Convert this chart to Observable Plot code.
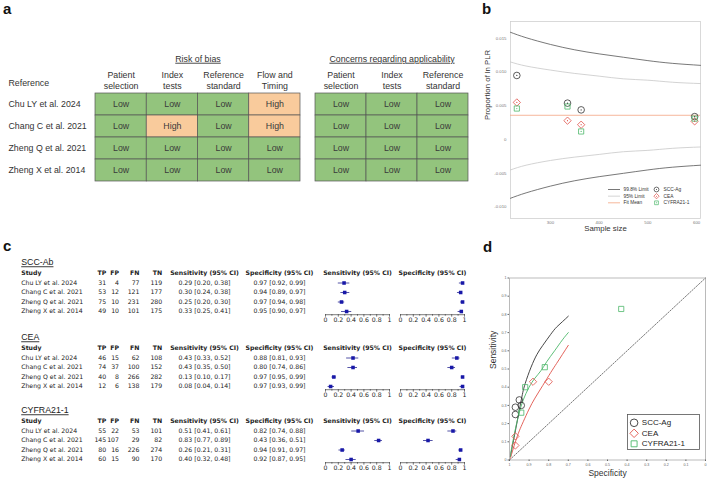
<!DOCTYPE html>
<html><head><meta charset="utf-8">
<script src="https://cdn.jsdelivr.net/npm/d3@7"></script>
<script src="https://cdn.jsdelivr.net/npm/@observablehq/plot@0.6"></script>
<style>
html,body{margin:0;padding:0;background:#fff;}
#root{position:relative;width:709px;height:482px;overflow:hidden;background:#fff;}
.panel-label{position:absolute;font:bold 15px "Liberation Sans",Arial,sans-serif;line-height:1;color:#111;}
</style></head><body><div id="root"></div>
<script>
// ---------------- DATA ----------------
const studies = ["Chu LY et al. 2024","Chang C et al. 2021","Zheng Q et al. 2021","Zheng X et al. 2014"];
const referenceHeader = "Reference";
const robDomains = ["Patient\nselection","Index\ntests","Reference\nstandard","Flow and\nTiming"];
const robRatings = [["Low","Low","Low","High"],["Low","High","Low","High"],["Low","Low","Low","Low"],["Low","Low","Low","Low"]];
const concernDomains = ["Patient\nselection","Index\ntests","Reference\nstandard"];
const concernRatings = [["Low","Low","Low"],["Low","Low","Low"],["Low","Low","Low"],["Low","Low","Low"]];
const ratingLevels = ["Low","High"];

// panel b
const markers = ["SCC-Ag","CEA","CYFRA21-1"];
const sampleSize = [231, 363, 596, 335];          // per study (same order as studies)
const propSCC = [0.0095, 0.0044, 0.0034, 0.0054];
const propCEA = [0.0055, 0.0022, 0.0027, 0.0028];
const propCYFRA = [0.0046, 0.0012, 0.0031, 0.0049];
const fitMean = [0.0036];
const limitN = [218, 250, 300, 350, 400, 450, 500, 550, 608];
const upper998 = [0.0159, 0.0151, 0.0141, 0.0133, 0.0127, 0.0122, 0.0117, 0.0113, 0.0110];
const lower998 = [-0.0087, -0.0079, -0.0069, -0.0061, -0.0055, -0.0050, -0.0045, -0.0041, -0.0038];
const upper95 = [0.0115, 0.0109, 0.0103, 0.0098, 0.0094, 0.0090, 0.0088, 0.0085, 0.0083];
const lower95 = [-0.0045, -0.0038, -0.0031, -0.0026, -0.0022, -0.0018, -0.0016, -0.0013, -0.0011];
const limitLabels = ["99.8% Limit","95% Limit","Fit Mean"];
const sampleTicks = [300, 400, 500, 600];
const plrTicks = [-0.010, -0.005, 0, 0.005, 0.010, 0.015];
const plrTickLabels = ["-0.010","-0.005","0","0.005","0.010","0.015"];

// panel c
const sectionNames = ["SCC-Ab","CEA","CYFRA21-1"];
const colHeaders = ["Study","TP","FP","FN","TN","Sensitivity (95% CI)","Specificity (95% CI)"];
const sccCounts = [[31,4,77,119],[53,12,121,177],[75,10,231,280],[49,10,101,175]];
const sccSens = [[0.29,0.20,0.38],[0.30,0.24,0.38],[0.25,0.20,0.30],[0.33,0.25,0.41]];
const sccSpec = [[0.97,0.92,0.99],[0.94,0.89,0.97],[0.97,0.94,0.98],[0.95,0.90,0.97]];
const ceaCounts = [[46,15,62,108],[74,37,100,152],[40,8,266,282],[12,6,138,179]];
const ceaSens = [[0.43,0.33,0.52],[0.43,0.35,0.50],[0.13,0.10,0.17],[0.08,0.04,0.14]];
const ceaSpec = [[0.88,0.81,0.93],[0.80,0.74,0.86],[0.97,0.95,0.99],[0.97,0.93,0.99]];
const cyfraCounts = [[55,22,53,101],[145,107,29,82],[80,16,226,274],[60,15,90,170]];
const cyfraSens = [[0.51,0.41,0.61],[0.83,0.77,0.89],[0.26,0.21,0.31],[0.40,0.32,0.48]];
const cyfraSpec = [[0.82,0.74,0.88],[0.43,0.36,0.51],[0.94,0.91,0.97],[0.92,0.87,0.95]];
const forestMajorTicks = [0, 0.2, 0.4, 0.6, 0.8, 1];
const forestTickLabels = ["0","0.2","0.4","0.6","0.8","1"];
const forestMinorTicks = [0.1, 0.3, 0.5, 0.7, 0.9];

// panel d
const srocSCC = [[0.995,0.02],[0.99,0.05],[0.97,0.16],[0.94,0.33],[0.92,0.42],[0.89,0.51],[0.86,0.58],[0.83,0.63],[0.79,0.69],[0.76,0.73],[0.73,0.76],[0.70,0.79]];
const srocCYFRA = [[0.995,0.02],[0.99,0.06],[0.97,0.17],[0.95,0.26],[0.93,0.33],[0.90,0.40],[0.87,0.45],[0.84,0.49],[0.81,0.54],[0.77,0.60],[0.73,0.66],[0.70,0.70]];
const srocCEA = [[0.995,0.01],[0.99,0.03],[0.97,0.10],[0.95,0.16],[0.93,0.21],[0.90,0.28],[0.87,0.34],[0.83,0.41],[0.79,0.48],[0.76,0.53],[0.73,0.58],[0.70,0.63]];
const chanceLine = [[1,0],[0,1]];
const srocTicks = [0,0.1,0.2,0.3,0.4,0.5,0.6,0.7,0.8,0.9,1];
const srocTickLabels = ["0","0.1","0.2","0.3","0.4","0.5","0.6","0.7","0.8","0.9","1"];

// ---------------- STYLE / HELPERS ----------------
const markerColors = ["#333333","#e0524a","#4cb86a"];
const markerSymbols = ["circle","diamond2","square2"];
const fontA = '"Liberation Sans", Arial, sans-serif';
const fontC = '"DejaVu Sans", Verdana, sans-serif';
const root = document.getElementById("root");
const baseStyle = {background:"transparent", overflow:"visible", color:"#333"};
function place(el, left, top){ el.style.position="absolute"; el.style.left=left+"px"; el.style.top=top+"px"; el.style.maxWidth="none"; root.appendChild(el); }
function underline(svg, labels){ d3.select(svg).selectAll("text").filter(function(){return labels.includes(this.textContent);}).attr("text-decoration","underline"); }
function panelLabel(t, left, top){ const d=document.createElement("div"); d.className="panel-label"; d.textContent=t; d.style.left=left+"px"; d.style.top=top+"px"; root.appendChild(d); }

// ---------------- PANEL a ----------------
function qualityTable(domains, ratings, title, left, width, mL, mR, withLabels){
  const cells = studies.flatMap((s,i)=>domains.map((d,j)=>({study:s, domain:d, rating:ratings[i][j]})));
  const marks = [
    Plot.cell(cells, {x:"domain", y:"study", fill:"rating", stroke:"#555", strokeWidth:0.7}),
    Plot.text(cells, {x:"domain", y:"study", text:"rating", fill:"#3a3a3a"}),
    Plot.axisX({anchor:"top", tickSize:0, tickPadding:5, label:null, lineHeight:1.2, color:"#333"}),
    Plot.text([title], {frameAnchor:"top", dy:-38})
  ];
  if (withLabels) marks.push(
    Plot.text(studies, {y:d=>d, frameAnchor:"left", dx:-87, textAnchor:"start"}),
    Plot.text([referenceHeader], {frameAnchor:"top-left", dx:-87, dy:-14, textAnchor:"start"})
  );
  const svg = Plot.plot({
    width, height:190, marginLeft:mL, marginRight:mR, marginTop:93, marginBottom:9,
    style:{...baseStyle, fontFamily:fontA, fontSize:"8.8px"},
    x:{type:"band", domain:domains, padding:0, round:false},
    y:{type:"band", domain:studies, padding:0, round:false, axis:null},
    color:{domain:ratingLevels, range:["#93c47d","#f9cb9c"]},
    marks
  });
  underline(svg, [title]);
  place(svg, left, 0);
}
qualityTable(robDomains, robRatings, "Risk of bias", 0, 302, 95, 2, true);
qualityTable(concernDomains, concernRatings, "Concerns regarding applicability", 312, 158, 3, 2, false);

// ---------------- PANEL b ----------------
(function(){
  const limits = limitN.map((n,i)=>({n, u998:upper998[i], l998:lower998[i], u95:upper95[i], l95:lower95[i]}));
  const props = [propSCC, propCEA, propCYFRA];
  const pts = markers.flatMap((m,k)=>studies.map((s,i)=>({marker:m, n:sampleSize[i], p:props[k][i]})));
  const svg = Plot.plot({
    width:269, height:245, marginLeft:70, marginRight:9, marginTop:21, marginBottom:27,
    style:{...baseStyle, fontFamily:fontA, fontSize:"7.8px"},
    x:{domain:[218,608]}, y:{domain:[-0.0117,0.0175]},
    color:{domain:markers, range:markerColors},
    symbol:{domain:markers, range:markerSymbols},
    marks:[
      Plot.frame({stroke:"#d0d0d0", strokeWidth:0.8}),
      Plot.axisY({ticks:plrTicks, tickFormat:(d,i)=>plrTickLabels[plrTicks.indexOf(d)], tickSize:0, tickPadding:4, fontSize:4.3, color:"#777", label:null}),
      Plot.axisX({ticks:sampleTicks, tickSize:0, tickPadding:2, fontSize:4.3, color:"#777", label:null}),
      Plot.line(limits, {x:"n", y:"u998", curve:"natural", stroke:"#555", strokeWidth:0.8}),
      Plot.line(limits, {x:"n", y:"l998", curve:"natural", stroke:"#555", strokeWidth:0.8}),
      Plot.line(limits, {x:"n", y:"u95", curve:"natural", stroke:"#c8c8c8", strokeWidth:0.8}),
      Plot.line(limits, {x:"n", y:"l95", curve:"natural", stroke:"#c8c8c8", strokeWidth:0.8}),
      Plot.ruleY(fitMean, {stroke:"#f4a582", strokeWidth:0.8}),
      Plot.dot(pts, {x:"n", y:"p", symbol:"marker", stroke:"marker", fill:"none", r:3.3, strokeWidth:0.8}),
      Plot.dot(pts, {x:"n", y:"p", fill:"marker", r:0.6}),
      Plot.text(["Proportion of ln PLR"], {frameAnchor:"left", rotate:-90, dx:-23}),
      Plot.text(["Sample size"], {frameAnchor:"bottom", dy:12.7})
    ]
  });
  place(svg, 440, 0);

  const limitColors = ["#555","#c8c8c8","#f4a582"];
  const leg = Plot.plot({
    width:100, height:24, marginLeft:0, marginRight:88, marginTop:0, marginBottom:0,
    style:{...baseStyle, fontFamily:fontA, fontSize:"4.8px"},
    y:{type:"point", domain:[0,1,2], range:[6,19.3], padding:0, round:false, axis:null},
    color:{domain:markers, range:markerColors},
    symbol:{domain:markers, range:markerSymbols},
    marks:[
      ...limitLabels.map((l,i)=>Plot.ruleY([i], {stroke:limitColors[i], strokeWidth:0.8})),
      Plot.text(limitLabels, {y:(d,i)=>i, frameAnchor:"right", dx:3, textAnchor:"start"}),
      Plot.dot(markers, {y:(d,i)=>i, frameAnchor:"right", dx:36, symbol:d=>d, stroke:d=>d, fill:"none", r:2.4, strokeWidth:0.7}),
      Plot.dot(markers, {y:(d,i)=>i, frameAnchor:"right", dx:36, fill:d=>d, r:0.5}),
      Plot.text(markers, {y:(d,i)=>i, frameAnchor:"right", dx:43, textAnchor:"start"})
    ]
  });
  place(leg, 608, 183);
})();

// ---------------- PANEL c ----------------
const rowDomain = ["Study", ...studies];
const colDx = [20.7, 105.7, 118.5, 139, 161.7, 204, 279];
const colAnchor = ["start","end","end","end","end","middle","middle"];
const rowStep = 9.5;
function fmtCI(v){ return `${v[0].toFixed(2)} [${v[1].toFixed(2)}, ${v[2].toFixed(2)}]`; }
function section(name, counts, sens, spec, headerY){
  const top = headerY - 20;
  const rows = studies.map((s,i)=>({study:s, tp:counts[i][0], fp:counts[i][1], fn:counts[i][2], tn:counts[i][3], sens:fmtCI(sens[i]), spec:fmtCI(spec[i])}));
  const keys = ["study","tp","fp","fn","tn","sens","spec"];
  const svg = Plot.plot({
    width:315, height:66, margin:0,
    style:{...baseStyle, fontFamily:fontC, fontSize:"6.2px", color:"#222"},
    y:{type:"point", domain:rowDomain, range:[20, 20+4*rowStep], padding:0, round:false, axis:null},
    marks:[
      Plot.text([name], {y:()=>"Study", dy:-11, frameAnchor:"left", dx:20.7, textAnchor:"start", fontFamily:fontA, fontSize:8.8}),
      ...colHeaders.map((h,j)=>Plot.text([h], {y:()=>"Study", frameAnchor:"left", dx:colDx[j], textAnchor:colAnchor[j], fontWeight:"bold"})),
      ...keys.map((k,j)=>Plot.text(rows, {y:"study", text:k, frameAnchor:"left", dx:colDx[j], textAnchor:colAnchor[j]}))
    ]
  });
  underline(svg, [name]);
  place(svg, 0, top);
  forest("Sensitivity (95% CI)", sens, 315, headerY);
  forest("Specificity (95% CI)", spec, 390, headerY);
}
function forest(label, vals, left, headerY){
  const data = studies.map((s,i)=>({study:s, est:vals[i][0], lo:vals[i][1], hi:vals[i][2]}));
  const svg = Plot.plot({
    width:84, height:60, marginLeft:10, marginRight:10, marginTop:0, marginBottom:12.8,
    style:{...baseStyle, fontFamily:fontC, fontSize:"6.2px", color:"#222"},
    x:{domain:[0,1]},
    y:{type:"point", domain:rowDomain, range:[6, 6+4*rowStep], padding:0, round:false, axis:null},
    marks:[
      Plot.frame({anchor:"bottom", stroke:"#222", strokeWidth:0.6}),
      Plot.axisX({ticks:forestMajorTicks, tickFormat:d=>forestTickLabels[forestMajorTicks.indexOf(d)], tickSize:2.5, tickPadding:0.8, strokeWidth:0.6, label:null}),
      Plot.axisX({ticks:forestMinorTicks, tickFormat:()=>"", tickSize:1.5, strokeWidth:0.6, label:null}),
      Plot.ruleY(data, {y:"study", x1:"lo", x2:"hi", stroke:"#2a2a90", strokeWidth:0.8}),
      Plot.dot(data, {x:"est", y:"study", symbol:"square", fill:"#1818a8", r:2}),
      Plot.text([label], {y:()=>"Study", fontWeight:"bold"})
    ]
  });
  place(svg, left, headerY - 6);
}
section(sectionNames[0], sccCounts, sccSens, sccSpec, 273.3);
section(sectionNames[1], ceaCounts, ceaSens, ceaSpec, 347.7);
section(sectionNames[2], cyfraCounts, cyfraSens, cyfraSpec, 421);

// ---------------- PANEL d ----------------
(function(){
  const sensAll = [sccSens, ceaSens, cyfraSens], specAll = [sccSpec, ceaSpec, cyfraSpec];
  const pts = markers.flatMap((m,k)=>studies.map((s,i)=>({marker:m, spec:specAll[k][i][0], sens:sensAll[k][i][0]})));
  const curves = [srocSCC, srocCEA, srocCYFRA];
  const svg = Plot.plot({
    width:269, height:242, marginLeft:69, marginRight:4, marginTop:37.5, marginBottom:22.5,
    style:{...baseStyle, fontFamily:fontA, fontSize:"8.5px"},
    x:{domain:[1,0]}, y:{domain:[0,1]},
    color:{domain:markers, range:markerColors},
    symbol:{domain:markers, range:markerSymbols},
    marks:[
      Plot.frame({stroke:"#aaa", strokeWidth:0.8}),
      Plot.axisY({ticks:srocTicks, tickFormat:d=>srocTickLabels[srocTicks.indexOf(d)], tickSize:1.5, tickPadding:1.5, fontSize:3.6, color:"#666", label:null}),
      Plot.axisX({ticks:srocTicks, tickFormat:d=>srocTickLabels[srocTicks.indexOf(d)], tickSize:1.5, tickPadding:1.5, fontSize:3.6, color:"#666", label:null}),
      Plot.line(chanceLine, {x:d=>d[0], y:d=>d[1], stroke:"#555", strokeWidth:0.8, strokeDasharray:"1.5,1.5"}),
      ...curves.map((c,k)=>Plot.line(c, {x:d=>d[0], y:d=>d[1], curve:"natural", stroke:markerColors[k], strokeWidth:0.9})),
      Plot.dot(pts, {x:"spec", y:"sens", symbol:"marker", stroke:"marker", fill:"none", r:3.3, strokeWidth:0.8}),
      Plot.text(["Sensitivity"], {frameAnchor:"left", rotate:-90, dx:-16.3}),
      Plot.text(["Specificity"], {frameAnchor:"bottom", dy:15.5})
    ]
  });
  place(svg, 440, 240);

  const leg = Plot.plot({
    width:72, height:35, margin:0,
    style:{...baseStyle, fontFamily:fontA, fontSize:"8px"},
    y:{type:"point", domain:markers, range:[8.3, 29.3], padding:0, round:false, axis:null},
    color:{domain:markers, range:markerColors},
    symbol:{domain:markers, range:markerSymbols},
    marks:[
      Plot.frame({stroke:"#555", strokeWidth:0.8}),
      Plot.dot(markers, {y:d=>d, frameAnchor:"left", dx:6.6, symbol:d=>d, stroke:d=>d, fill:"none", r:3.8, strokeWidth:0.9}),
      Plot.text(markers, {y:d=>d, frameAnchor:"left", dx:14.3, textAnchor:"start", fill:"#222"})
    ]
  });
  place(leg, 627, 414);
})();

// ---------------- panel letters ----------------
panelLabel("a", 3, 0.6);
panelLabel("b", 482, 1.3);
panelLabel("c", 3, 238);
panelLabel("d", 483, 239);
</script></body></html>
